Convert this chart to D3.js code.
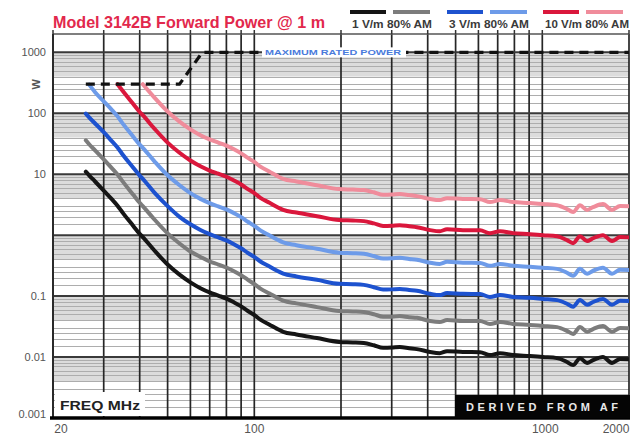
<!DOCTYPE html>
<html>
<head>
<meta charset="utf-8">
<script src="https://cdn.jsdelivr.net/npm/d3@7"></script>
<style>
  html, body { margin: 0; padding: 0; background: #fff; }
  svg { display: block; }
</style>
</head>
<body>
<svg id="chart" width="642" height="437"></svg>
<script>
// Forward power needed at 1 m versus frequency (MHz), in watts
const freqMHz = [26, 26.7, 28, 30, 32, 33.5, 35, 38, 40, 41, 45, 50, 55, 60, 65, 70, 75, 80, 85, 90, 95, 100, 105, 113, 120, 126, 140, 165, 197, 220, 240, 260, 280, 300, 320, 345, 367, 408, 440, 467, 530, 608, 658, 713, 791, 906, 1005, 1125, 1218, 1279, 1352, 1430, 1500, 1624, 1746, 1862, 2000];

const field1CW = [11, 9.6, 7.6, 5.4, 3.9, 3.05, 2.3, 1.42, 1.05, 0.93, 0.56, 0.33, 0.225, 0.168, 0.135, 0.115, 0.102, 0.091, 0.079, 0.068, 0.057, 0.049, 0.041, 0.034, 0.029, 0.026, 0.0235, 0.0205, 0.0177, 0.0174, 0.0170, 0.0156, 0.0142, 0.0143, 0.0146, 0.0140, 0.0135, 0.0121, 0.0116, 0.0125, 0.0121, 0.0120, 0.0108, 0.0116, 0.0108, 0.0104, 0.0100, 0.0096, 0.0083, 0.0074, 0.0096, 0.0080, 0.0089, 0.0100, 0.0080, 0.0093, 0.0092];

const field1AM = [36, 31, 24.6, 17.5, 12.6, 9.9, 7.5, 4.6, 3.4, 3.0, 1.81, 1.07, 0.73, 0.54, 0.44, 0.37, 0.33, 0.295, 0.256, 0.22, 0.185, 0.158, 0.133, 0.110, 0.094, 0.084, 0.076, 0.066, 0.057, 0.056, 0.055, 0.0505, 0.046, 0.046, 0.047, 0.045, 0.044, 0.039, 0.0376, 0.0405, 0.039, 0.039, 0.035, 0.0376, 0.035, 0.0337, 0.0324, 0.031, 0.0269, 0.024, 0.031, 0.026, 0.0288, 0.0324, 0.026, 0.030, 0.0298];

const field3CW = [99, 86, 68, 49, 35, 27.5, 20.7, 12.8, 9.5, 8.4, 5.0, 3.0, 2.0, 1.51, 1.22, 1.04, 0.92, 0.82, 0.71, 0.61, 0.51, 0.44, 0.37, 0.306, 0.26, 0.234, 0.21, 0.185, 0.159, 0.157, 0.153, 0.140, 0.128, 0.129, 0.131, 0.126, 0.122, 0.109, 0.104, 0.1125, 0.109, 0.108, 0.097, 0.104, 0.097, 0.094, 0.090, 0.086, 0.075, 0.067, 0.086, 0.072, 0.080, 0.090, 0.072, 0.084, 0.083];

const field3AM = [null, 295, 222, 157, 114, 89, 67, 41.4, 30.6, 27.1, 16.3, 9.6, 6.6, 4.9, 3.94, 3.35, 2.97, 2.65, 2.30, 1.98, 1.66, 1.42, 1.20, 0.99, 0.85, 0.76, 0.685, 0.60, 0.516, 0.507, 0.496, 0.455, 0.414, 0.417, 0.426, 0.408, 0.394, 0.353, 0.338, 0.365, 0.353, 0.350, 0.315, 0.338, 0.315, 0.303, 0.292, 0.280, 0.242, 0.216, 0.280, 0.233, 0.260, 0.292, 0.233, 0.271, 0.268];

const field10CW = [null, null, null, null, null, 300, 230, 142, 105, 93, 56, 33, 22.5, 16.8, 13.5, 11.5, 10.2, 9.1, 7.9, 6.8, 5.7, 4.9, 4.1, 3.4, 2.9, 2.6, 2.35, 2.05, 1.77, 1.74, 1.70, 1.56, 1.42, 1.43, 1.46, 1.40, 1.35, 1.21, 1.16, 1.25, 1.21, 1.20, 1.08, 1.16, 1.08, 1.04, 1.00, 0.96, 0.83, 0.74, 0.96, 0.80, 0.89, 1.00, 0.80, 0.93, 0.92];

const field10AM = [null, null, null, null, null, null, null, null, null, 300, 181, 107, 73, 54.4, 43.7, 37.3, 33, 29.5, 25.6, 22, 18.5, 15.9, 13.3, 11, 9.4, 8.4, 7.6, 6.6, 5.7, 5.6, 5.5, 5.05, 4.6, 4.63, 4.73, 4.54, 4.37, 3.92, 3.76, 4.05, 3.92, 3.89, 3.5, 3.76, 3.5, 3.37, 3.24, 3.1, 2.69, 2.4, 3.1, 2.6, 2.88, 3.24, 2.6, 3.0, 2.98];

// Maximum rated input power of the antenna
const ratedFreq = [26, 55, 66, 2000];
const ratedPower = [300, 300, 1000, 1000];

const yTickValues = [1000, 100, 10, 0.1, 0.01, 0.001];
const yTickLabels = ["1000", "100", "10", "0.1", "0.01", "0.001"];
const xTickValues = [20, 100, 1000, 2000];
const xTickLabels = ["20", "100", "1000", "2000"];
const legendLabels = ["1 V/m 80% AM", "3 V/m 80% AM", "10 V/m 80% AM"];

const seriesList = [
  { values: field1CW,  color: "#151515" },
  { values: field1AM,  color: "#7c7c7c" },
  { values: field3CW,  color: "#1d52cf" },
  { values: field3AM,  color: "#6d9be9" },
  { values: field10CW, color: "#da173c" },
  { values: field10AM, color: "#f08c9b" }
];

const svg = d3.select("#chart");
const plotL = 53, plotR = 629, plotT = 34, plotB = 418;

const x = d3.scaleLog().domain([20, 2000]).range([plotL, plotR]);
const y = d3.scaleLog().domain([0.001, 2000]).range([plotB, plotT]);

// ---- background: grey bands under each decade line
const bands = svg.append("g");
for (let k = -2; k <= 3; k++) {
  const v = Math.pow(10, k);
  bands.append("rect")
    .attr("x", plotL).attr("width", plotR - plotL)
    .attr("y", y(v)).attr("height", y(v * 0.4) - y(v))
    .attr("fill", "#dcdcdc");
}

// ---- minor horizontal grid
const minorMults = [1.5, 2, 2.5, 3, 4, 5, 6, 7, 8, 9];
const minor = svg.append("g").attr("stroke", "#adadad").attr("stroke-width", 1);
for (let k = -3; k <= 2; k++) {
  minorMults.forEach(m => {
    const yy = Math.round(y(m * Math.pow(10, k))) + 0.5;
    minor.append("line").attr("x1", plotL).attr("x2", plotR).attr("y1", yy).attr("y2", yy);
  });
}

// ---- vertical frequency grid
const vgrid = svg.append("g").attr("stroke", "#262626").attr("stroke-width", 1.7);
x.ticks().filter(f => f > 20).forEach(f => {
  vgrid.append("line").attr("x1", x(f)).attr("x2", x(f)).attr("y1", plotT).attr("y2", plotB);
});

// ---- decade lines
const decades = svg.append("g").attr("stroke", "#3a3a3a").attr("stroke-width", 2);
for (let k = -2; k <= 3; k++) {
  const yy = y(Math.pow(10, k));
  decades.append("line").attr("x1", plotL).attr("x2", plotR).attr("y1", yy).attr("y2", yy);
}

// ---- frame: top rule with ticks, left axis
const frame = svg.append("g");
frame.append("line").attr("x1", plotL).attr("x2", plotR).attr("y1", plotT).attr("y2", plotT)
  .attr("stroke", "#555").attr("stroke-width", 1.5);
x.ticks().forEach(f => {
  frame.append("line").attr("x1", x(f)).attr("x2", x(f)).attr("y1", plotT - 4).attr("y2", plotT)
    .attr("stroke", "#333").attr("stroke-width", 1.5);
});
frame.append("line").attr("x1", plotL).attr("x2", plotL).attr("y1", plotT).attr("y2", plotB)
  .attr("stroke", "#2a2a2a").attr("stroke-width", 2);

// ---- curves
svg.append("clipPath").attr("id", "plotClip")
  .append("rect").attr("x", plotL).attr("y", plotT).attr("width", plotR - plotL).attr("height", plotB - plotT);

const line = d3.line()
  .defined(d => d[1] != null)
  .x(d => x(d[0]))
  .y(d => y(d[1]))
  .curve(d3.curveMonotoneX);

const curves = svg.append("g").attr("clip-path", "url(#plotClip)");
seriesList.forEach(s => {
  curves.append("path")
    .datum(freqMHz.map((f, i) => [f, s.values[i]]))
    .attr("d", line)
    .attr("fill", "none")
    .attr("stroke", s.color)
    .attr("stroke-width", 4)
    .attr("stroke-linejoin", "round")
    .attr("stroke-linecap", "round");
});

// ---- maximum rated power (dashed)
const rated = d3.line().x(d => x(d[0])).y(d => y(d[1]));
svg.append("path")
  .datum(ratedFreq.map((f, i) => [f, ratedPower[i]]))
  .attr("d", rated)
  .attr("fill", "none")
  .attr("stroke", "#111")
  .attr("stroke-width", 3.2)
  .attr("stroke-dasharray", "9,6");

const mrpX = 265, mrpW = 140;
svg.append("rect").attr("x", mrpX - 3).attr("y", y(1000) - 5).attr("width", mrpW + 4).attr("height", 10)
  .attr("fill", "#fff");
svg.append("text")
  .attr("x", mrpX).attr("y", y(1000) + 3)
  .attr("font-family", "Liberation Sans, Arial, sans-serif")
  .attr("font-size", 8).attr("font-weight", "bold")
  .attr("fill", "#4a7bdc")
  .attr("textLength", mrpW - 4).attr("lengthAdjust", "spacingAndGlyphs")
  .text("MAXIMUM RATED POWER");

// heavy baseline
svg.append("line").attr("x1", 50).attr("x2", 630).attr("y1", plotB).attr("y2", plotB)
  .attr("stroke", "#000").attr("stroke-width", 3.5);

// ---- in-plot captions
svg.append("rect").attr("x", plotL + 2).attr("y", 392).attr("width", 90).attr("height", 24).attr("fill", "#fff");
svg.append("text")
  .attr("x", 60).attr("y", 410)
  .attr("font-family", "Liberation Sans, Arial, sans-serif")
  .attr("font-size", 12).attr("font-weight", "bold").attr("fill", "#222")
  .attr("textLength", 80).attr("lengthAdjust", "spacingAndGlyphs")
  .text("FREQ  MHz");

svg.append("rect").attr("x", 455).attr("y", 395).attr("width", plotR - 455 + 1).attr("height", 23).attr("fill", "#050505");
svg.append("text")
  .attr("x", 466).attr("y", 411)
  .attr("font-family", "Liberation Sans, Arial, sans-serif")
  .attr("font-size", 11).attr("font-weight", "bold").attr("fill", "#e8e8e8")
  .attr("textLength", 152).attr("lengthAdjust", "spacing")
  .text("DERIVED FROM AF");

// ---- y axis labels
const yLab = svg.append("g")
  .attr("font-family", "Liberation Sans, Arial, sans-serif")
  .attr("font-size", 11).attr("fill", "#555").attr("text-anchor", "end");
yTickValues.forEach((v, i) => {
  yLab.append("text").attr("x", 46).attr("y", y(v) + 4 - (v === 0.001 ? 4 : 0)).text(yTickLabels[i]);
});
svg.append("text")
  .attr("transform", `translate(40,${y(300)}) rotate(-90)`)
  .attr("font-family", "Liberation Sans, Arial, sans-serif")
  .attr("font-size", 11).attr("font-weight", "bold").attr("fill", "#555")
  .attr("text-anchor", "middle")
  .text("W");

// ---- x axis labels
const xLab = svg.append("g")
  .attr("font-family", "Liberation Sans, Arial, sans-serif")
  .attr("font-size", 12).attr("fill", "#555").attr("text-anchor", "middle");
xTickValues.forEach((f, i) => {
  let px = x(f);
  if (f === 20) px += 8;
  if (f === 1000) px += 3;
  if (f === 2000) px -= 13;
  xLab.append("text").attr("x", px).attr("y", 433).text(xTickLabels[i]);
});

// ---- title
svg.append("text")
  .attr("x", 53).attr("y", 28)
  .attr("font-family", "Liberation Sans, Arial, sans-serif")
  .attr("font-size", 17).attr("font-weight", "bold").attr("fill", "#e2284c")
  .attr("textLength", 272).attr("lengthAdjust", "spacingAndGlyphs")
  .text("Model 3142B Forward Power @ 1 m");

// ---- legend: CW swatch + AM swatch over a shared caption
const legendX = [350, 447, 543];
const legend = svg.append("g");
legendLabels.forEach((lab, i) => {
  const x0 = legendX[i];
  legend.append("line").attr("x1", x0).attr("x2", x0 + 36).attr("y1", 12).attr("y2", 12)
    .attr("stroke", seriesList[2 * i].color).attr("stroke-width", 4);
  legend.append("line").attr("x1", x0 + 43).attr("x2", x0 + 80).attr("y1", 12).attr("y2", 12)
    .attr("stroke", seriesList[2 * i + 1].color).attr("stroke-width", 4);
  legend.append("text").attr("x", x0 + 2).attr("y", 28)
    .attr("font-family", "Liberation Sans, Arial, sans-serif")
    .attr("font-size", 11).attr("font-weight", "bold").attr("fill", "#3a3a3a")
    .attr("textLength", i === 2 ? 84 : 80).attr("lengthAdjust", "spacingAndGlyphs")
    .text(lab);
});
</script>
</body>
</html>
